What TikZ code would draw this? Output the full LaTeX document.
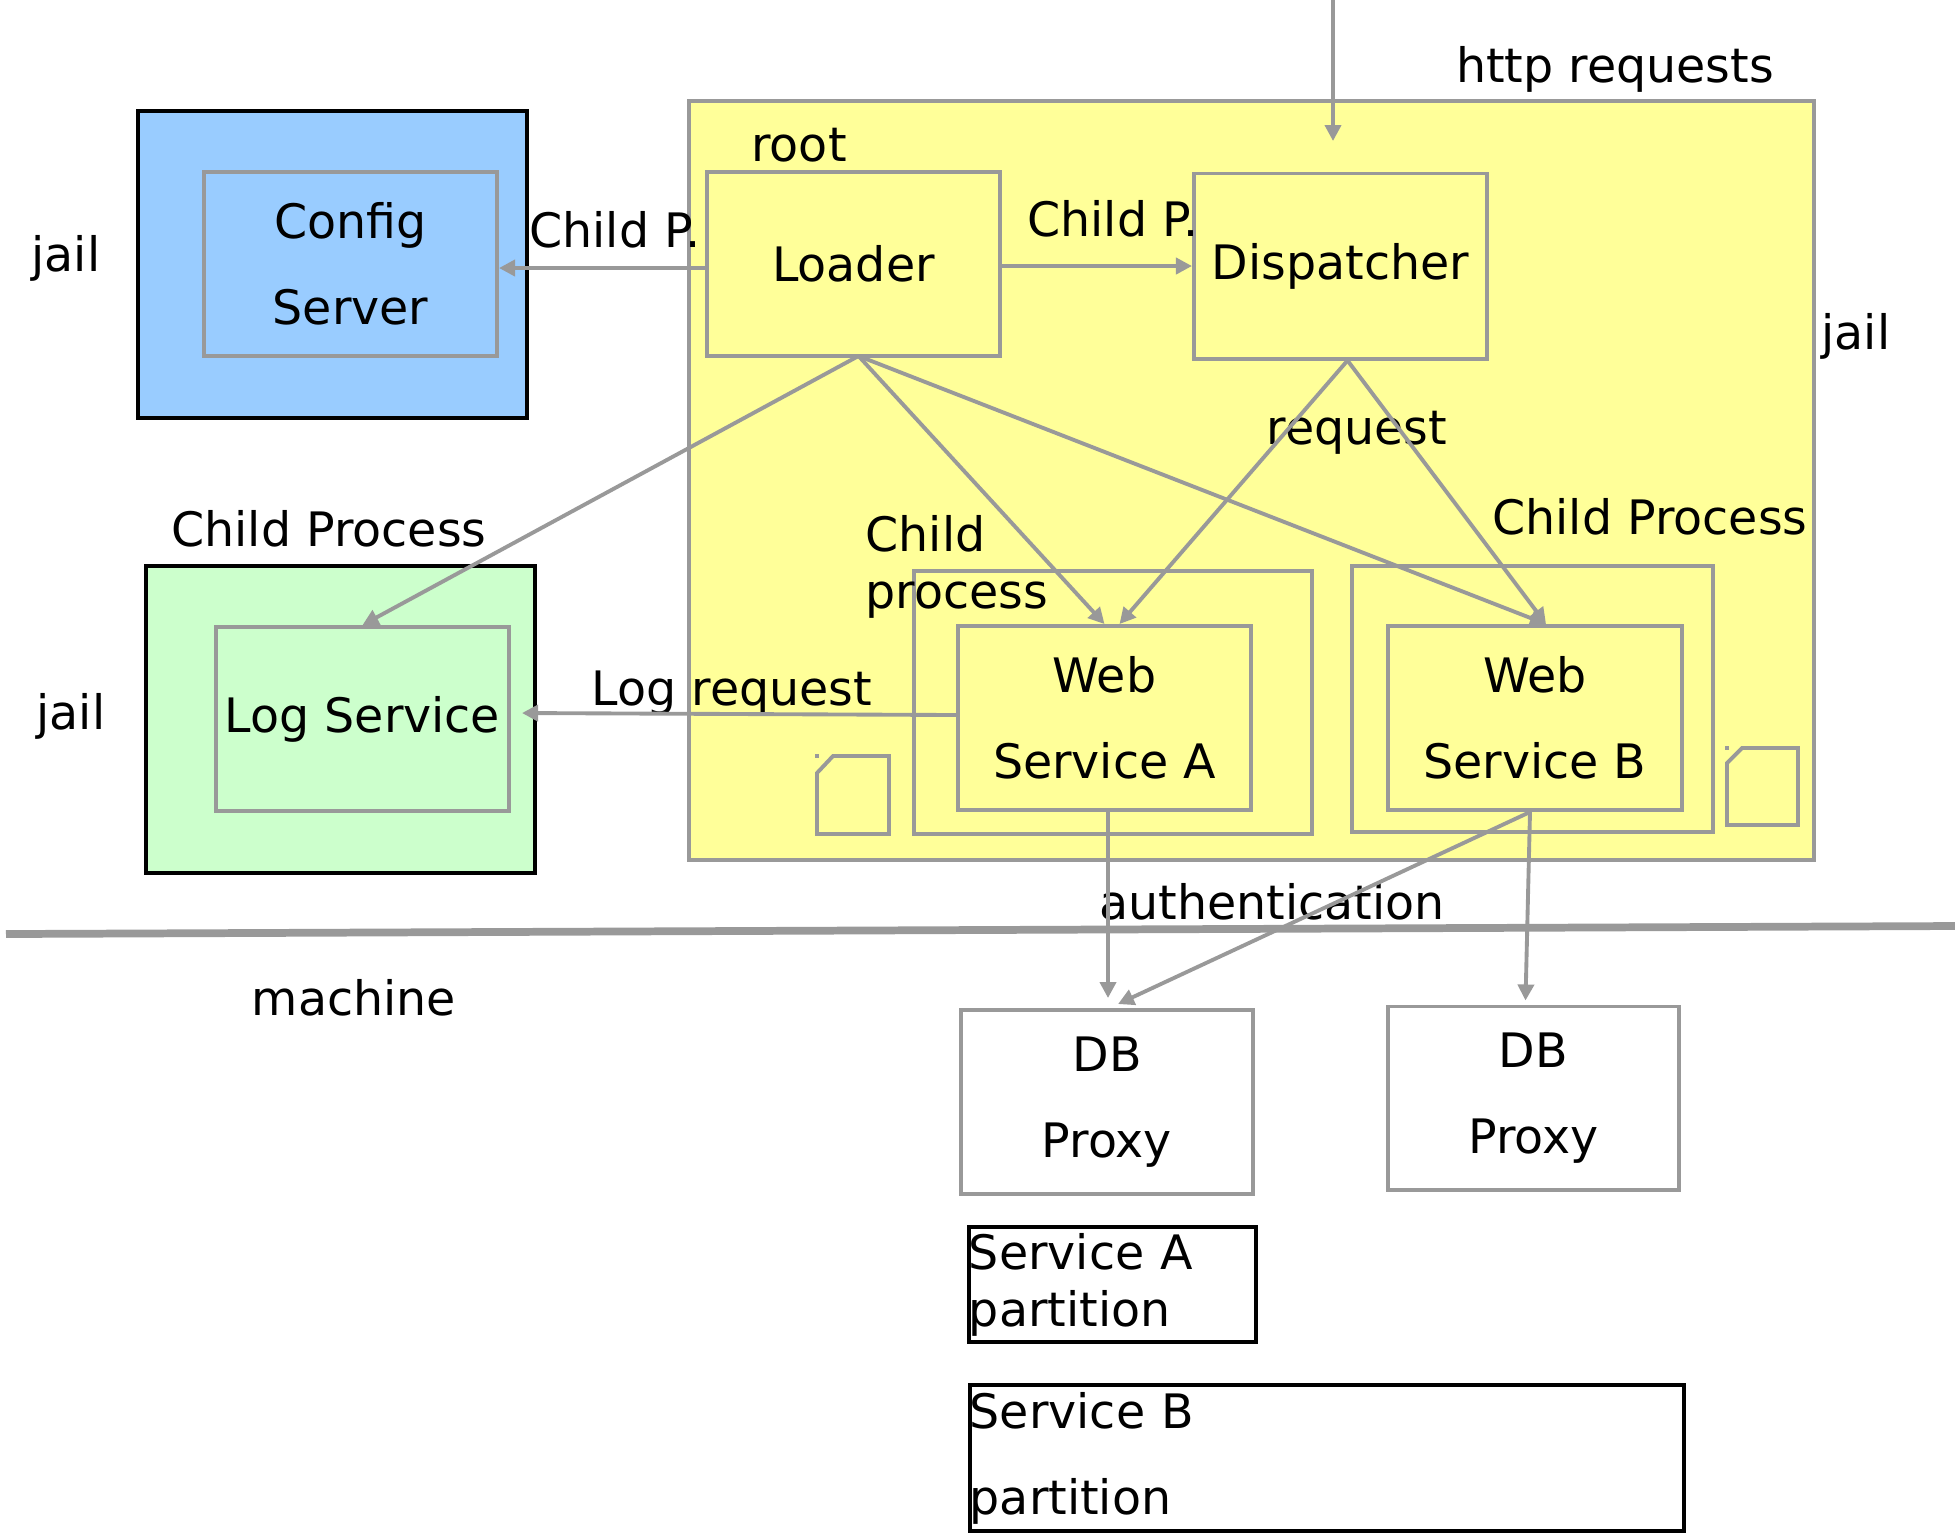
\documentclass[tikz,border=0pt]{standalone}
\usepackage{fontspec}
\setmainfont{DejaVu Sans}
\usetikzlibrary{arrows.meta,positioning}
\definecolor{jailblue}{RGB}{153,204,255}
\definecolor{jailgreen}{RGB}{204,255,204}
\definecolor{rootyellow}{RGB}{255,255,153}
\definecolor{linegray}{RGB}{153,153,153}

\begin{document}
\begin{tikzpicture}[x=0.01cm, y=-0.01cm, every node/.style={font=\fontsize{13.5}{16.2}\selectfont},
  bx/.style={draw=linegray, line width=1.1pt, align=center, inner sep=0pt},
  jl/.style={draw=black, line width=1.2pt},
  tall/.style={font=\fontsize{13.5}{24.4}\selectfont},
  arr/.style={-{Triangle[width=0.16cm,length=0.16cm]}, draw=linegray, line width=1.1pt}]
\useasboundingbox (0,0) rectangle (1955,1532);
% Config jail
\node[jl, fill=jailblue, minimum width=3.89cm, minimum height=3.07cm] (cfgjail) at (332.5,264.5) {};
\node[bx, tall, fill=jailblue, minimum width=2.93cm, minimum height=1.84cm] (config) at (350.5,264) {Config\\Server};
\node at (66,258) {jail};
% Log jail
\node[jl, fill=jailgreen, minimum width=3.89cm, minimum height=3.07cm] (logjail) at (340.5,719.5) {};
\node[bx, fill=jailgreen, minimum width=2.93cm, minimum height=1.84cm] (log) at (362.5,719) {Log Service};
\node at (71,716) {jail};
\node at (329,529) {Child Process};
% Root jail
\node[bx, fill=rootyellow, minimum width=11.25cm, minimum height=7.59cm] (root) at (1251.5,480.5) {};
\node at (799,145) {root};
\node at (1856,336) {jail};
\node at (1615,69) {http requests};
\node[bx, minimum width=2.93cm, minimum height=1.84cm] (loader) at (853.5,264) {Loader};
\node[bx, minimum width=2.93cm, minimum height=1.85cm] (disp) at (1340.5,266) {Dispatcher};
\node at (615,230) {Child P.};
\node at (1113,219) {Child P.};
\node at (1357,433) {request};
% Web services
\node[bx, minimum width=3.98cm, minimum height=2.63cm] (webaproc) at (1113,702.5) {};
\node[bx, tall, minimum width=2.93cm, minimum height=1.84cm] (weba) at (1104.5,718) {Web\\Service A};
\node[bx, minimum width=3.61cm, minimum height=2.66cm] (webbproc) at (1532.5,699) {};
\node[bx, tall, minimum width=2.94cm, minimum height=1.84cm] (webb) at (1535,718) {Web\\Service B};
\node[align=left, anchor=west, inner sep=0pt] at (865,567) {Child\\process};
\node at (1650,517) {Child Process};
\node at (732,693) {Log request};
% Small icons
\draw[linegray, line width=1.1pt] (817,773) -- (833,756) -- (889,756) -- (889,834) -- (817,834) -- cycle;
\fill[linegray] (815,754) rectangle (819,758);
\draw[linegray, line width=1.1pt] (1727,763) -- (1742,748) -- (1798,748) -- (1798,825) -- (1727,825) -- cycle;
\fill[linegray] (1725,746) rectangle (1729,750);
% Machine
\draw[linegray, line width=2.2pt] (6,934) -- (1955,926);
\node at (354,998) {machine};
\node at (1272,902) {authentication};
% DB proxies
\node[bx, tall, minimum width=2.92cm, minimum height=1.84cm] (dba) at (1107,1102) {DB\\Proxy};
\node[bx, tall, minimum width=2.91cm, minimum height=1.83cm] (dbb) at (1533.5,1098) {DB\\Proxy};
% Partitions
\node[jl, align=left, inner sep=0pt, text width=2.87cm, minimum height=1.15cm] (parta) at (1112.5,1284.5) {Service A\\partition};
\node[jl, tall, align=left, inner sep=0pt, text width=7.14cm, minimum height=1.46cm] (partb) at (1327,1458) {Service B\\partition};
% Arrows
\coordinate (http) at (1333,0);
\coordinate (httpend) at (1333,141);
\draw[arr] (http) -- (httpend);
\draw[arr] ([yshift=-0.04cm]loader.west) -- ([yshift=-0.04cm]config.east);
\draw[arr] ([yshift=-0.02cm]loader.east) -- ([yshift=0cm]disp.west);
\draw[arr] ([xshift=0.05cm,yshift=0.02cm]loader.south) -- (log.north);
\draw[arr] ([xshift=0.05cm,yshift=0.02cm]loader.south) -- (weba.north);
\draw[arr] ([xshift=0.05cm,yshift=0.02cm]loader.south) -- ([xshift=0.11cm]webb.north);
\draw[arr] ([xshift=0.07cm]disp.south) -- ([xshift=0.15cm]weba.north);
\draw[arr] ([xshift=0.07cm]disp.south) -- ([xshift=0.11cm]webb.north);
\draw[arr] ([yshift=0.03cm]weba.west) -- ([xshift=0.11cm,yshift=0.06cm]log.east);
\draw[arr] ([xshift=0.035cm]weba.south) -- ([xshift=0.01cm,yshift=0.1cm]dba.north);
\draw[arr] ([xshift=-0.05cm]webb.south) -- ([xshift=0.11cm,yshift=0.04cm]dba.north);
\draw[arr] ([xshift=-0.05cm]webb.south) -- ([xshift=-0.08cm,yshift=0.04cm]dbb.north);
\end{tikzpicture}
\end{document}
